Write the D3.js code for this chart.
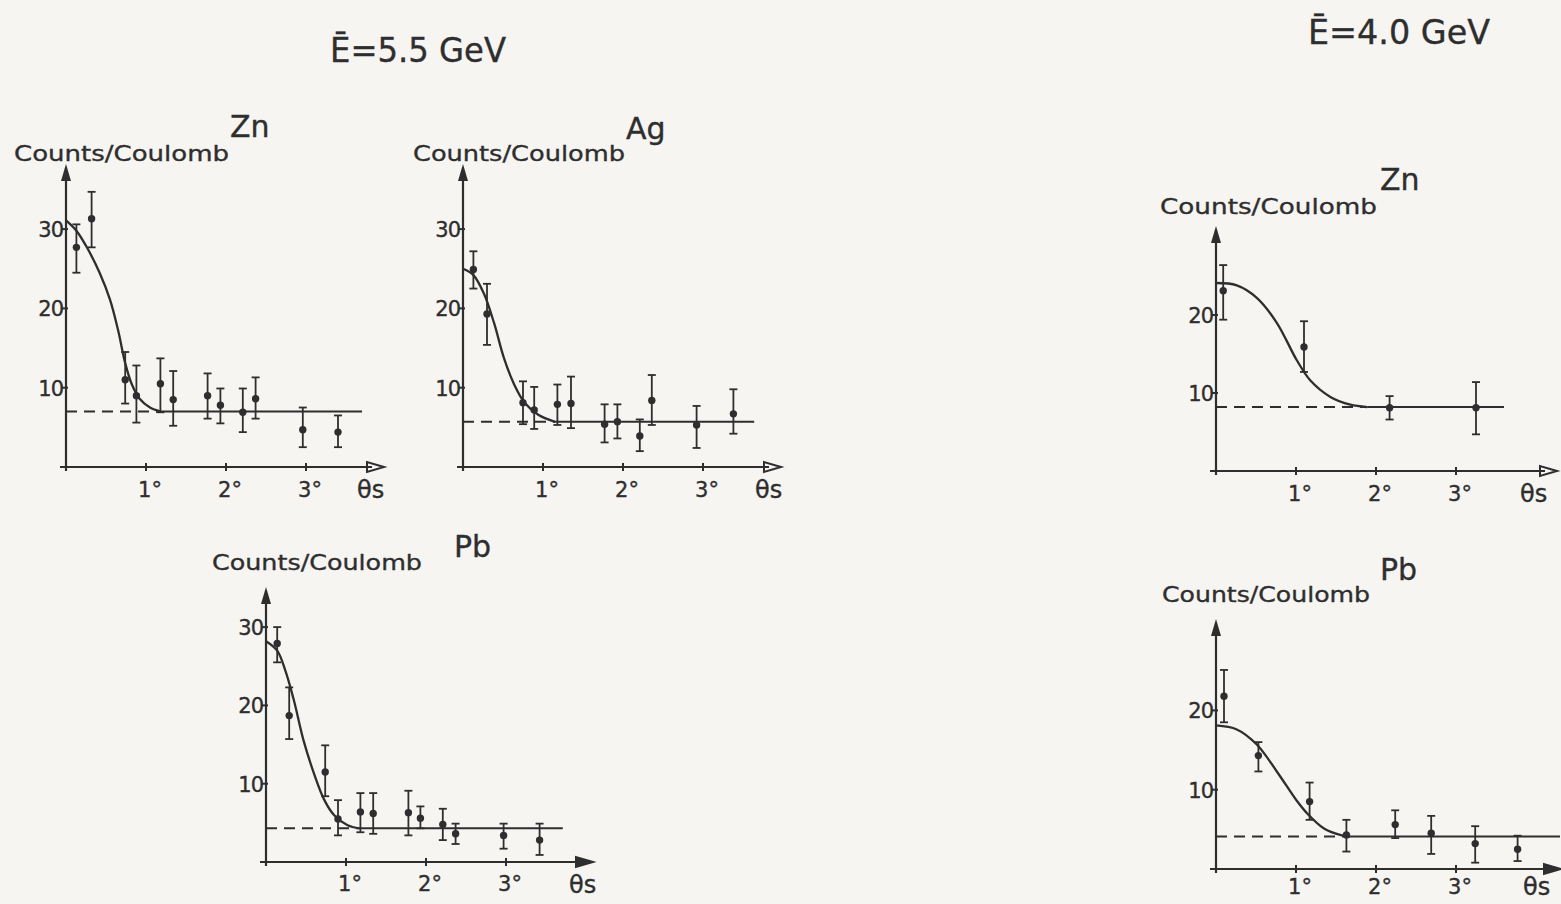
<!DOCTYPE html>
<html>
<head>
<meta charset="utf-8">
<script src="https://cdn.jsdelivr.net/npm/d3@7"></script>
<style>
  body { margin: 0; background: #f6f5f2; }
  svg { display: block; }
  text { font-family: "DejaVu Sans", sans-serif; fill: #2e2e2e; stroke: #2e2e2e; stroke-width: 0.35px; }
</style>
</head>
<body>
<svg id="chart"></svg>
<script>
// data: [theta (deg), counts, err low, err high]
const zn55Points = [
  [0.13, 27.7, 24.5, 30.6], [0.32, 31.3, 27.7, 34.7], [0.74, 11.0, 8.0, 14.5],
  [0.88, 9.0, 5.6, 12.8], [1.18, 10.5, 6.9, 13.7], [1.34, 8.5, 5.2, 12.1],
  [1.77, 9.0, 6.1, 11.8], [1.93, 7.8, 5.5, 9.9], [2.21, 6.9, 4.4, 9.9],
  [2.37, 8.6, 6.1, 11.3], [2.96, 4.7, 2.5, 7.5], [3.40, 4.4, 2.5, 6.5]
];
const ag55Points = [
  [0.13, 24.9, 22.5, 27.2], [0.30, 19.3, 15.4, 23.1], [0.75, 8.1, 5.4, 10.8],
  [0.89, 7.2, 4.8, 10.1], [1.18, 7.9, 5.3, 10.4], [1.35, 8.0, 4.9, 11.4],
  [1.77, 5.4, 3.1, 7.9], [1.93, 5.7, 3.6, 7.9], [2.21, 3.9, 2.0, 6.0],
  [2.36, 8.4, 5.3, 11.6], [2.92, 5.3, 2.4, 7.7], [3.38, 6.7, 4.2, 9.8]
];
const pb55Points = [
  [0.14, 27.9, 25.5, 30.0], [0.29, 18.7, 15.7, 22.3], [0.74, 11.5, 8.4, 14.9],
  [0.90, 5.5, 3.4, 7.9], [1.18, 6.4, 3.8, 8.8], [1.34, 6.2, 3.6, 8.8],
  [1.78, 6.3, 3.4, 9.1], [1.93, 5.6, 4.3, 7.1], [2.21, 4.8, 2.8, 6.8],
  [2.37, 3.6, 2.3, 4.9], [2.97, 3.4, 1.7, 4.9], [3.42, 2.8, 0.9, 4.9]
];
const zn40Points = [
  [0.09, 23.1, 19.4, 26.4], [1.10, 15.9, 12.7, 19.2],
  [2.17, 8.1, 6.6, 9.6], [3.25, 8.1, 4.7, 11.4]
];
const pb40Points = [
  [0.10, 21.8, 18.5, 25.1], [0.53, 14.3, 12.3, 16.0], [1.17, 8.5, 6.2, 10.9],
  [1.63, 4.3, 2.2, 6.2], [2.24, 5.6, 3.9, 7.4], [2.69, 4.5, 1.9, 6.7],
  [3.24, 3.2, 0.8, 5.4], [3.77, 2.5, 1.0, 4.2]
];

// fitted curves: [theta, counts]
const zn55Curve = [[0, 31.1], [0.13, 29.8], [0.25, 27.9], [0.42, 24.5], [0.55, 21.1],
  [0.65, 17.3], [0.74, 13.1], [0.82, 10.5], [0.92, 8.6], [1.05, 7.5], [1.18, 7.0]];
const ag55Curve = [[0, 25.0], [0.13, 24.2], [0.26, 21.9], [0.39, 18.1], [0.51, 13.8],
  [0.64, 10.4], [0.77, 8.1], [0.94, 6.6], [1.15, 5.7]];
const pb55Curve = [[0, 28.2], [0.14, 27.0], [0.24, 24.5], [0.35, 20.6], [0.47, 15.5],
  [0.60, 11.3], [0.73, 7.9], [0.85, 6.0], [1.02, 4.7], [1.17, 4.3]];
const zn40Curve = [[0, 24.1], [0.26, 23.8], [0.51, 22.2], [0.76, 19.0], [1.01, 14.2],
  [1.18, 11.6], [1.43, 9.5], [1.68, 8.5], [1.89, 8.2]];
const pb40Curve = [[0, 18.1], [0.26, 17.6], [0.51, 15.7], [0.76, 12.3], [1.01, 8.6],
  [1.14, 7.0], [1.35, 5.1], [1.55, 4.3], [1.68, 4.1]];

// flat background level and where it stops: [counts, theta end]
const zn55Base = [7.0, 3.70];
const ag55Base = [5.7, 3.64];
const pb55Base = [4.3, 3.71];
const zn40Base = [8.2, 3.60];
const pb40Base = [4.1, 4.30];

const elements = ["Zn", "Ag", "Pb", "Zn", "Pb"];
const energies = ["Ē=5.5 GeV", "Ē=4.0 GeV"];
const xTicks = [1, 2, 3];
const xTickLabels = ["1°", "2°", "3°"];
const yTicks55 = [10, 20, 30];
const yTicks40 = [10, 20];
const yLabel = "Counts/Coulomb";
const xLabel = "θs";

const width = 1561;
const height = 904;
const ink = "#2e2e2e";

// panel geometry (pixels)
const layout = [
  { ox: 66, oy: 467, degPx: 80, unitPx: 7.93, xTip: 384, yTip: 164, filled: false, tickDy: 30,
    ccX: 14, ccY: 161, ccW: 215, elX: 230, elY: 137, thX: 357, thY: 498 },
  { ox: 463, oy: 467, degPx: 80, unitPx: 7.93, xTip: 781, yTip: 164, filled: false, tickDy: 30,
    ccX: 413, ccY: 161, ccW: 212, elX: 626, elY: 139, thX: 755, thY: 498 },
  { ox: 266, oy: 862, degPx: 80, unitPx: 7.83, xTip: 593, yTip: 587, filled: true, tickDy: 29,
    ccX: 212, ccY: 570, ccW: 210, elX: 454, elY: 557, thX: 569, thY: 893 },
  { ox: 1216, oy: 471, degPx: 80, unitPx: 7.8, xTip: 1557, yTip: 226, filled: false, tickDy: 30,
    ccX: 1160, ccY: 214, ccW: 217, elX: 1380, elY: 190, thX: 1520, thY: 502 },
  { ox: 1216, oy: 869, degPx: 80, unitPx: 7.93, xTip: 1561, yTip: 619, filled: true, tickDy: 25,
    ccX: 1162, ccY: 602, ccW: 208, elX: 1380, elY: 580, thX: 1523, thY: 895 }
];

const panelData = [
  { points: zn55Points, curve: zn55Curve, base: zn55Base, yTicks: yTicks55 },
  { points: ag55Points, curve: ag55Curve, base: ag55Base, yTicks: yTicks55 },
  { points: pb55Points, curve: pb55Curve, base: pb55Base, yTicks: yTicks55 },
  { points: zn40Points, curve: zn40Curve, base: zn40Base, yTicks: yTicks40 },
  { points: pb40Points, curve: pb40Curve, base: pb40Base, yTicks: yTicks40 }
];

const svg = d3.select("#chart")
  .attr("width", width)
  .attr("height", height)
  .attr("viewBox", [0, 0, width, height]);

// energy headings
svg.append("text").attr("x", 330).attr("y", 62)
  .attr("font-size", 34).attr("textLength", 176).attr("lengthAdjust", "spacingAndGlyphs")
  .text(energies[0]);
svg.append("text").attr("x", 1308).attr("y", 44)
  .attr("font-size", 34).attr("textLength", 182).attr("lengthAdjust", "spacingAndGlyphs")
  .text(energies[1]);

function drawPanel(d, L, name) {
  const x = d3.scaleLinear([0, 3], [L.ox, L.ox + 3 * L.degPx]);
  const y = d3.scaleLinear([0, 30], [L.oy, L.oy - 30 * L.unitPx]);
  const g = svg.append("g");

  // axes with arrow heads
  g.append("line")
    .attr("x1", L.ox - 6).attr("x2", L.xTip - 12)
    .attr("y1", L.oy).attr("y2", L.oy)
    .attr("stroke", ink).attr("stroke-width", 2.2);
  g.append("path")
    .attr("d", `M${L.xTip},${L.oy} L${L.xTip - 17},${L.oy - 5} L${L.xTip - 17},${L.oy + 5} Z`)
    .attr("fill", L.filled ? ink : "none")
    .attr("stroke", ink).attr("stroke-width", 2);
  g.append("line")
    .attr("x1", L.ox).attr("x2", L.ox)
    .attr("y1", L.oy + 4).attr("y2", L.yTip + 14)
    .attr("stroke", ink).attr("stroke-width", 2.2);
  g.append("path")
    .attr("d", `M${L.ox},${L.yTip} L${L.ox - 5},${L.yTip + 17} L${L.ox + 5},${L.yTip + 17} Z`)
    .attr("fill", ink);

  // x ticks
  g.selectAll(".xt").data(xTicks).join("line")
    .attr("x1", v => x(v)).attr("x2", v => x(v))
    .attr("y1", L.oy - 4).attr("y2", L.oy + 4)
    .attr("stroke", ink).attr("stroke-width", 2);
  g.selectAll(".xl").data(xTicks).join("text")
    .attr("x", v => x(v) + 4).attr("y", L.oy + L.tickDy)
    .attr("text-anchor", "middle").attr("font-size", 21)
    .text((v, i) => xTickLabels[i]);

  // y ticks
  g.selectAll(".yt").data(d.yTicks).join("line")
    .attr("x1", L.ox - 5).attr("x2", L.ox + 2)
    .attr("y1", v => y(v)).attr("y2", v => y(v))
    .attr("stroke", ink).attr("stroke-width", 2);
  g.selectAll(".yl").data(d.yTicks).join("text")
    .attr("x", L.ox - 3).attr("y", v => y(v) + 8)
    .attr("text-anchor", "end").attr("font-size", 21)
    .attr("letter-spacing", -1)
    .text(v => v);

  // labels
  g.append("text").attr("x", L.ccX).attr("y", L.ccY)
    .attr("font-size", 22).attr("textLength", L.ccW).attr("lengthAdjust", "spacingAndGlyphs")
    .text(yLabel);
  g.append("text").attr("x", L.elX).attr("y", L.elY)
    .attr("font-size", 30).text(name);
  g.append("text").attr("x", L.thX).attr("y", L.thY)
    .attr("font-size", 24).text(xLabel);

  // background level: dashed under the curve, solid after it
  const join = d.curve[d.curve.length - 1][0];
  g.append("line")
    .attr("x1", x(0)).attr("x2", x(join))
    .attr("y1", y(d.base[0])).attr("y2", y(d.base[0]))
    .attr("stroke", ink).attr("stroke-width", 2)
    .attr("stroke-dasharray", "11,7");
  g.append("line")
    .attr("x1", x(join)).attr("x2", x(d.base[1]))
    .attr("y1", y(d.base[0])).attr("y2", y(d.base[0]))
    .attr("stroke", ink).attr("stroke-width", 2);

  // fitted curve
  const line = d3.line()
    .x(p => x(p[0]))
    .y(p => y(p[1]))
    .curve(d3.curveCatmullRom.alpha(0.5));
  g.append("path")
    .datum(d.curve)
    .attr("fill", "none")
    .attr("stroke", ink).attr("stroke-width", 2.3)
    .attr("d", line);

  // error bars and points
  const eb = g.selectAll(".eb").data(d.points).join("g");
  eb.append("line")
    .attr("x1", p => x(p[0])).attr("x2", p => x(p[0]))
    .attr("y1", p => y(p[2])).attr("y2", p => y(p[3]))
    .attr("stroke", ink).attr("stroke-width", 1.8);
  eb.append("line")
    .attr("x1", p => x(p[0]) - 4).attr("x2", p => x(p[0]) + 4)
    .attr("y1", p => y(p[3])).attr("y2", p => y(p[3]))
    .attr("stroke", ink).attr("stroke-width", 1.8);
  eb.append("line")
    .attr("x1", p => x(p[0]) - 4).attr("x2", p => x(p[0]) + 4)
    .attr("y1", p => y(p[2])).attr("y2", p => y(p[2]))
    .attr("stroke", ink).attr("stroke-width", 1.8);
  eb.append("circle")
    .attr("cx", p => x(p[0])).attr("cy", p => y(p[1]))
    .attr("r", 3.7).attr("fill", ink);
}

panelData.forEach((d, i) => drawPanel(d, layout[i], elements[i]));
</script>
</body>
</html>
